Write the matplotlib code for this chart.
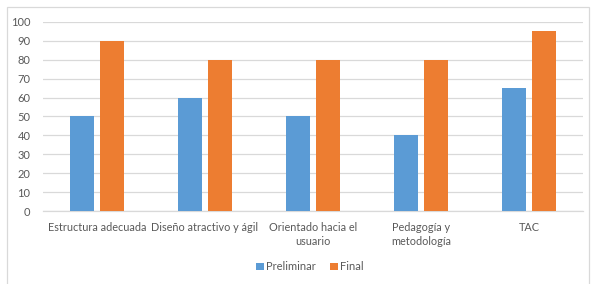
import numpy as np
import matplotlib.pyplot as plt
from matplotlib.patches import Rectangle

categories = ["Estructura adecuada", "Diseño atractivo y ágil", "Orientado hacia el\nusuario",
              "Pedagogía y\nmetodología", "TAC"]
preliminar = [50, 60, 50, 40, 65]
final = [90, 80, 80, 80, 95]
yticks = list(range(0, 101, 10))

plt.rcParams['font.family'] = ['Lato', 'DejaVu Sans']

fig = plt.figure(figsize=(5.96, 2.84), dpi=100)
ax = fig.add_axes([0.072, 0.257, 0.906, 0.666])

x = np.arange(len(categories))
w = 0.225
gap = 0.055
ax.bar(x - (w + gap) / 2, preliminar, w, color="#5B9BD5", label="Preliminar", zorder=3)
ax.bar(x + (w + gap) / 2, final, w, color="#ED7D31", label="Final", zorder=3)

ax.set_xlim(-0.5, len(categories) - 0.5)
ax.set_ylim(0, 100)
ax.set_yticks(yticks)
ax.set_xticks(x)
ax.set_xticklabels(categories, fontsize=7.8, color="#595959", linespacing=1.3)
ax.tick_params(axis="y", labelsize=8, labelcolor="#595959", length=0, pad=9)
ax.tick_params(axis="x", length=0, pad=8)
ax.grid(axis="y", color="#D9D9D9", linewidth=0.9, zorder=0)
for s in ["top", "right", "left"]:
    ax.spines[s].set_visible(False)
ax.spines["bottom"].set_color("#D9D9D9")
ax.spines["bottom"].set_linewidth(0.9)

fig.legend(loc="center", bbox_to_anchor=(0.52, 0.06), ncol=2, frameon=False,
           fontsize=8, labelcolor="#595959", handlelength=0.7, handleheight=0.7,
           handletextpad=0.2, columnspacing=1.3)

fig.patches.append(Rectangle((7 / 596, -0.1), 582 / 596, 1.1 - 7 / 284,
                             transform=fig.transFigure, fill=False,
                             edgecolor="#D9D9D9", linewidth=0.9))

fig.savefig("out.png", dpi=100)
